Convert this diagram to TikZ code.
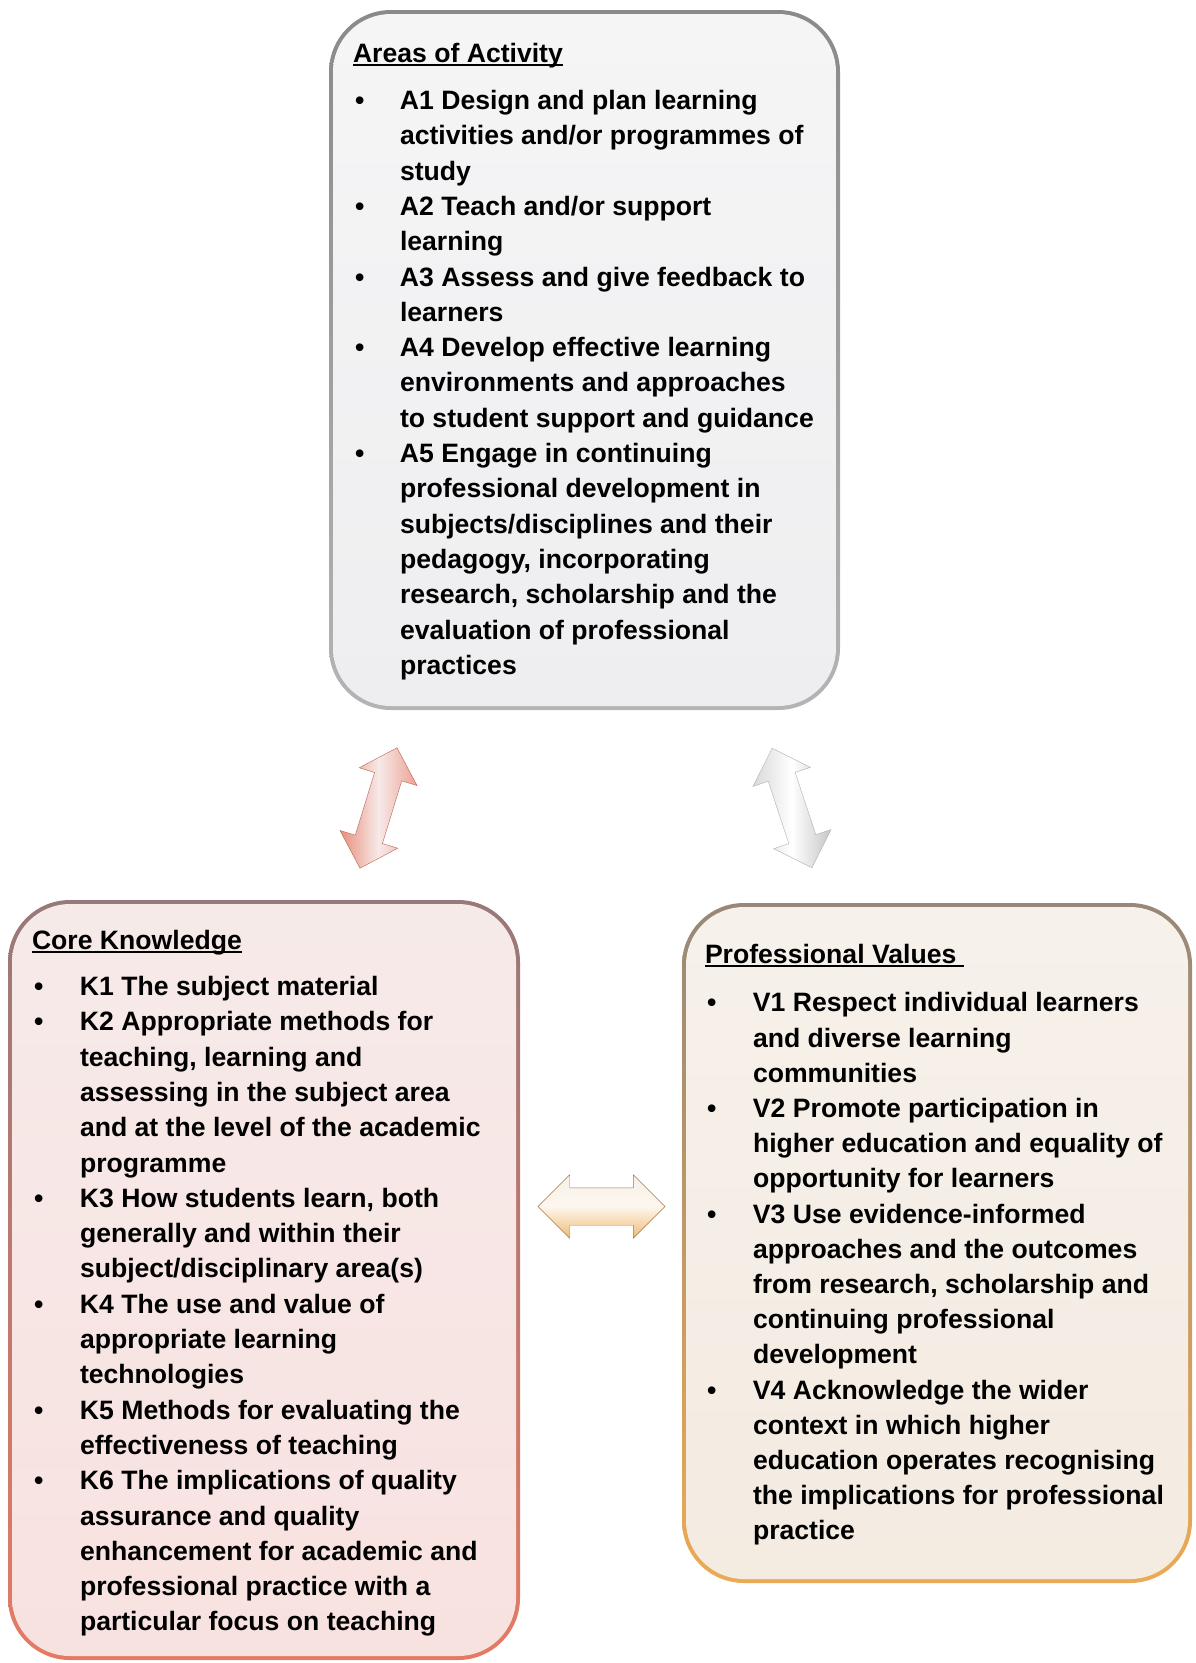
\documentclass[tikz,border=0pt]{standalone}
\usepackage{fontspec}
\setmainfont{Liberation Sans}
\usepackage{xcolor}
\usepackage{tikz}
\usetikzlibrary{shapes.arrows,positioning,calc}

\definecolor{actRimTop}{HTML}{8A8A8A}
\definecolor{actRimBot}{HTML}{B4B4B6}
\definecolor{actFillTop}{HTML}{F5F5F6}
\definecolor{actFillBot}{HTML}{EEEEF0}
\definecolor{knoRimTop}{HTML}{987878}
\definecolor{knoRimBot}{HTML}{E47A64}
\definecolor{knoFillTop}{HTML}{F6EAE9}
\definecolor{knoFillBot}{HTML}{F8E2E0}
\definecolor{valRimTop}{HTML}{988878}
\definecolor{valRimBot}{HTML}{EBAA55}
\definecolor{valFillTop}{HTML}{F6F1EB}
\definecolor{valFillBot}{HTML}{F4EBE1}

\newcommand{\ulhead}[1]{\setbox0\hbox{#1}\rlap{\rule[-3.5pt]{\wd0}{1.8pt}}\box0}
\newcommand{\bul}{\textbullet}

\begin{document}
\begin{tikzpicture}[
			x=1pt, y=1pt,
			panelrim/.style={rounded corners=62pt, inner sep=0},
			panelfill/.style={rounded corners=58pt, inner sep=0},
			listtext/.style={inner sep=0, align=left},
			blockarrow/.style={double arrow, inner xsep=0, inner ysep=14pt, double arrow head extend=16pt, minimum height=126pt}
		]
		\useasboundingbox (0,0) rectangle (1195,-1663);

		% the three panels
		\node[panelrim, top color=actRimTop, bottom color=actRimBot, minimum width=511pt, minimum height=700pt] (actBox) at (584.5,-360) {};
		\node[panelfill, top color=actFillTop, bottom color=actFillBot, minimum width=503pt, minimum height=692pt] (actIn) at (actBox.center) {};

		\node[panelrim, top color=knoRimTop, bottom color=knoRimBot, minimum width=512pt, minimum height=760pt] (knoBox) at (264,-1280) {};
		\node[panelfill, top color=knoFillTop, bottom color=knoFillBot, minimum width=504pt, minimum height=752pt] (knoIn) at (knoBox.center) {};

		\node[panelrim, top color=valRimTop, bottom color=valRimBot, minimum width=510pt, minimum height=680pt] (valBox) at (937,-1243) {};
		\node[panelfill, top color=valFillTop, bottom color=valFillBot, minimum width=502pt, minimum height=672pt] (valIn) at (valBox.center) {};

		% texts
		\node[listtext, font=\fontsize{26.6}{35.3}\selectfont\bfseries, below right=27.5pt and 24pt of actBox.north west] (actText) {%
			\begin{tabular}{@{\hspace{2pt}}p{45pt}@{}l@{}}
				\multicolumn{2}{@{}l@{}}{\ulhead{Areas of Activity}}\\[12pt]
				\bul & A1 Design and plan learning          \\
				     & activities and/or programmes of      \\
				     & study                                \\
				\bul & A2 Teach and/or support              \\
				     & learning                             \\
				\bul & A3 Assess and give feedback to       \\
				     & learners                             \\
				\bul & A4 Develop effective learning        \\
				     & environments and approaches          \\
				     & to student support and guidance      \\
				\bul & A5 Engage in continuing              \\
				     & professional development in          \\
				     & subjects/disciplines and their       \\
				     & pedagogy, incorporating              \\
				     & research, scholarship and the        \\
				     & evaluation of professional           \\
				     & practices
			\end{tabular}};

		\node[listtext, font=\fontsize{26.6}{35.3}\selectfont\bfseries, below right=24.5pt and 24pt of knoBox.north west] (knoText) {%
			\begin{tabular}{@{\hspace{2pt}}p{46pt}@{}l@{}}
				\multicolumn{2}{@{}l@{}}{\ulhead{Core Knowledge}}\\[11pt]
				\bul & K1 The subject material              \\
				\bul & K2 Appropriate methods for           \\
				     & teaching, learning and               \\
				     & assessing in the subject area        \\
				     & and at the level of the academic     \\
				     & programme                            \\
				\bul & K3 How students learn, both          \\
				     & generally and within their           \\
				     & subject/disciplinary area(s)         \\
				\bul & K4 The use and value of              \\
				     & appropriate learning                 \\
				     & technologies                         \\
				\bul & K5 Methods for evaluating the        \\
				     & effectiveness of teaching            \\
				\bul & K6 The implications of quality       \\
				     & assurance and quality                \\
				     & enhancement for academic and         \\
				     & professional practice with a         \\
				     & particular focus on teaching
			\end{tabular}};

		\node[listtext, font=\fontsize{26.6}{35.2}\selectfont\bfseries, below right=36pt and 23pt of valBox.north west] (valText) {%
			\begin{tabular}{@{\hspace{2pt}}p{46pt}@{}l@{}}
				\multicolumn{2}{@{}l@{}}{\ulhead{Professional Values\ }}\\[13pt]
				\bul & V1 Respect individual learners       \\
				     & and diverse learning                 \\
				     & communities                          \\
				\bul & V2 Promote participation in          \\
				     & higher education and equality of     \\
				     & opportunity for learners             \\
				\bul & V3 Use evidence-informed             \\
				     & approaches and the outcomes          \\
				     & from research, scholarship and       \\
				     & continuing professional              \\
				     & development                          \\
				\bul & V4 Acknowledge the wider             \\
				     & context in which higher              \\
				     & education operates recognising       \\
				     & the implications for professional    \\
				     & practice
			\end{tabular}};

		% arrows between the panels
		\node[blockarrow, rotate=72.9, draw=knoRimBot!80!black, left color=knoRimBot!85, right color=knoRimBot!70, middle color=knoFillTop] (arrAK) at (378.5,-808) {};
		\node[blockarrow, rotate=108.4, draw=gray!60, left color=gray!30, right color=gray!45, middle color=white] (arrAV) at (792,-808) {};
		\node[blockarrow, inner ysep=18.5pt, double arrow head extend=13pt, minimum height=127pt, draw=valRimBot!70!black, top color=valFillTop, bottom color=valRimBot!80, middle color=white!90!valRimBot] (arrKV) at (601.5,-1206.5) {};
	\end{tikzpicture}
\end{document}
